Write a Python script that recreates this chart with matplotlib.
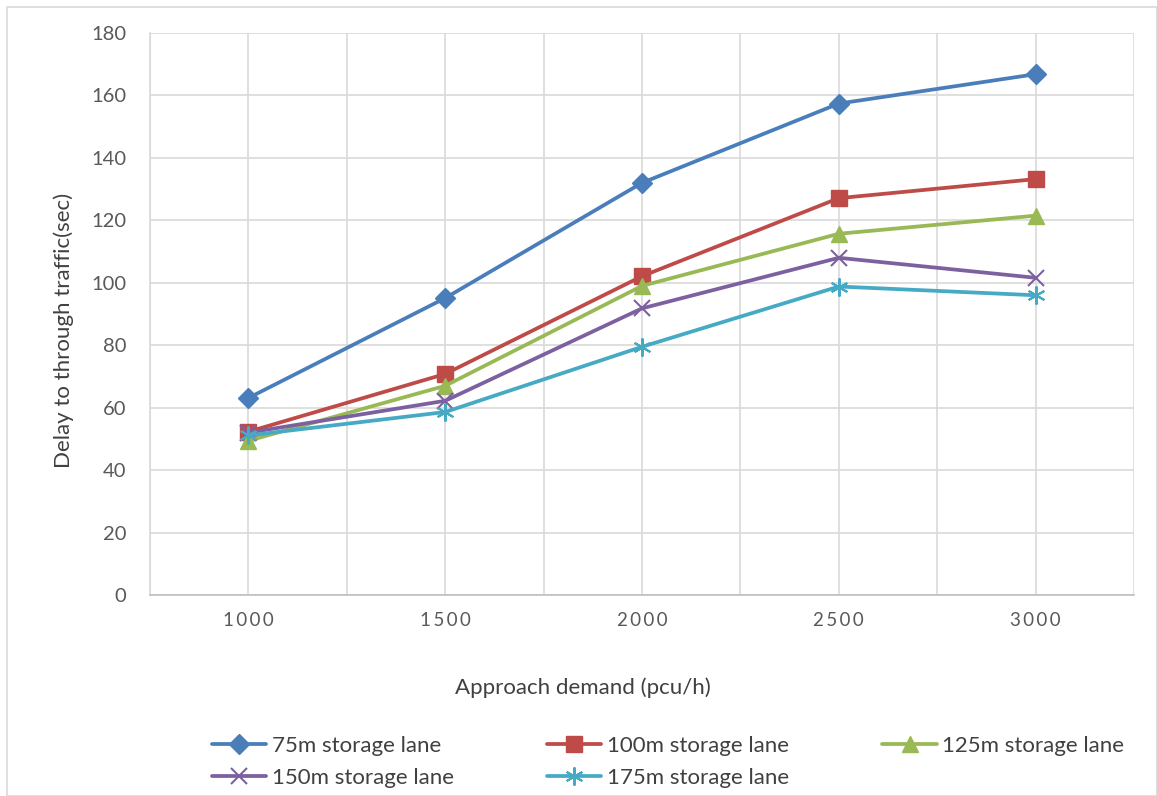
import matplotlib
matplotlib.use("Agg")
import matplotlib.pyplot as plt
from matplotlib.patches import Rectangle

demand = ["1000", "1500", "2000", "2500", "3000"]
s75 = [63.1, 95.1, 132.0, 157.4, 166.8]
s100 = [52.3, 70.8, 102.1, 127.1, 133.2]
s125 = [49.4, 67.0, 99.0, 115.7, 121.5]
s150 = [52.0, 62.2, 91.8, 108.0, 101.6]
s175 = [51.1, 58.6, 79.5, 98.8, 96.0]
labels = ["75m storage lane", "100m storage lane", "125m storage lane",
          "150m storage lane", "175m storage lane"]
yticks = [0, 20, 40, 60, 80, 100, 120, 140, 160, 180]

plt.rcParams['font.family'] = ['Lato', 'DejaVu Sans']
fig = plt.figure(figsize=(11.57, 7.96), dpi=100)
ax = fig.add_axes([150/1157, 1-595/796, (1134-150)/1157, (595-33)/796])

x = list(range(1, len(demand)+1))
series = [s75, s100, s125, s150, s175]
colors = ["#4A7EBB", "#BE4B48", "#98B954", "#7D60A0", "#46AAC5"]
markers = ["D", "s", "^", "x", (6, 2, 0)]
msizes = [10.5, 11.5, 12, 12, 13]
handles = []
for vals, c, m, ms, lab in zip(series, colors, markers, msizes, labels):
    h, = ax.plot(x, vals, color=c, lw=2.7, marker=m, markersize=ms,
                 markeredgewidth=1.5 if m in ("x",) or isinstance(m, tuple) else 1,
                 markeredgecolor=c, markerfacecolor=c, label=lab,
                 solid_joinstyle='round', solid_capstyle='round', zorder=3)
    handles.append(h)

ax.set_xlim(0.5, len(demand)+0.5)
ax.set_ylim(0, 180)
ax.set_yticks(yticks)
ax.set_xticks(x)
ax.set_xticks([i+0.5 for i in range(0, len(demand)+1)], minor=True)
ax.set_xticklabels(["\u2009".join(d) for d in demand])
ax.grid(True, which='both', axis='x', color='#D9D9D9', lw=1.2, zorder=0)
ax.grid(True, which='major', axis='y', color='#D9D9D9', lw=1.2, zorder=0)
ax.tick_params(axis='both', which='both', length=0, colors='#595959', labelsize=14.5)
ax.tick_params(axis='x', pad=12)
ax.tick_params(axis='y', pad=17)
for t in ax.get_xticklabels():
    t.set_fontsize(13.5)
for sp in ['top', 'right']:
    ax.spines[sp].set_visible(False)
ax.spines['left'].set_color('#D9D9D9')
ax.spines['bottom'].set_color('#BFBFBF')
ax.spines['left'].set_linewidth(1.2)
ax.spines['bottom'].set_linewidth(1.2)

ax.set_ylabel("Delay to through traffic(sec)", fontsize=16, color='#404040')
ax.yaxis.set_label_coords((74-150)/984, (595-330)/562)
ax.set_xlabel("Approach demand (pcu/h)", fontsize=16, color='#404040')
ax.xaxis.set_label_coords((583-150)/984, -(677-595)/562)

order = [0, 3, 1, 4, 2]
leg = fig.legend([handles[i] for i in order], [labels[i] for i in order],
                 ncol=3, loc='center', bbox_to_anchor=(668/1157, 1-762/796),
                 frameon=False, fontsize=16, handlelength=2.45, handletextpad=0.25,
                 columnspacing=4.2, labelspacing=0.55, labelcolor='#404040')

fig.patches.append(Rectangle((7/1157, 0), 1-7/1157 - 0.5/1157, 1-7/796,
                             transform=fig.transFigure, fill=False,
                             edgecolor='#D9D9D9', lw=1.2))
fig.savefig("out.png", dpi=100)
